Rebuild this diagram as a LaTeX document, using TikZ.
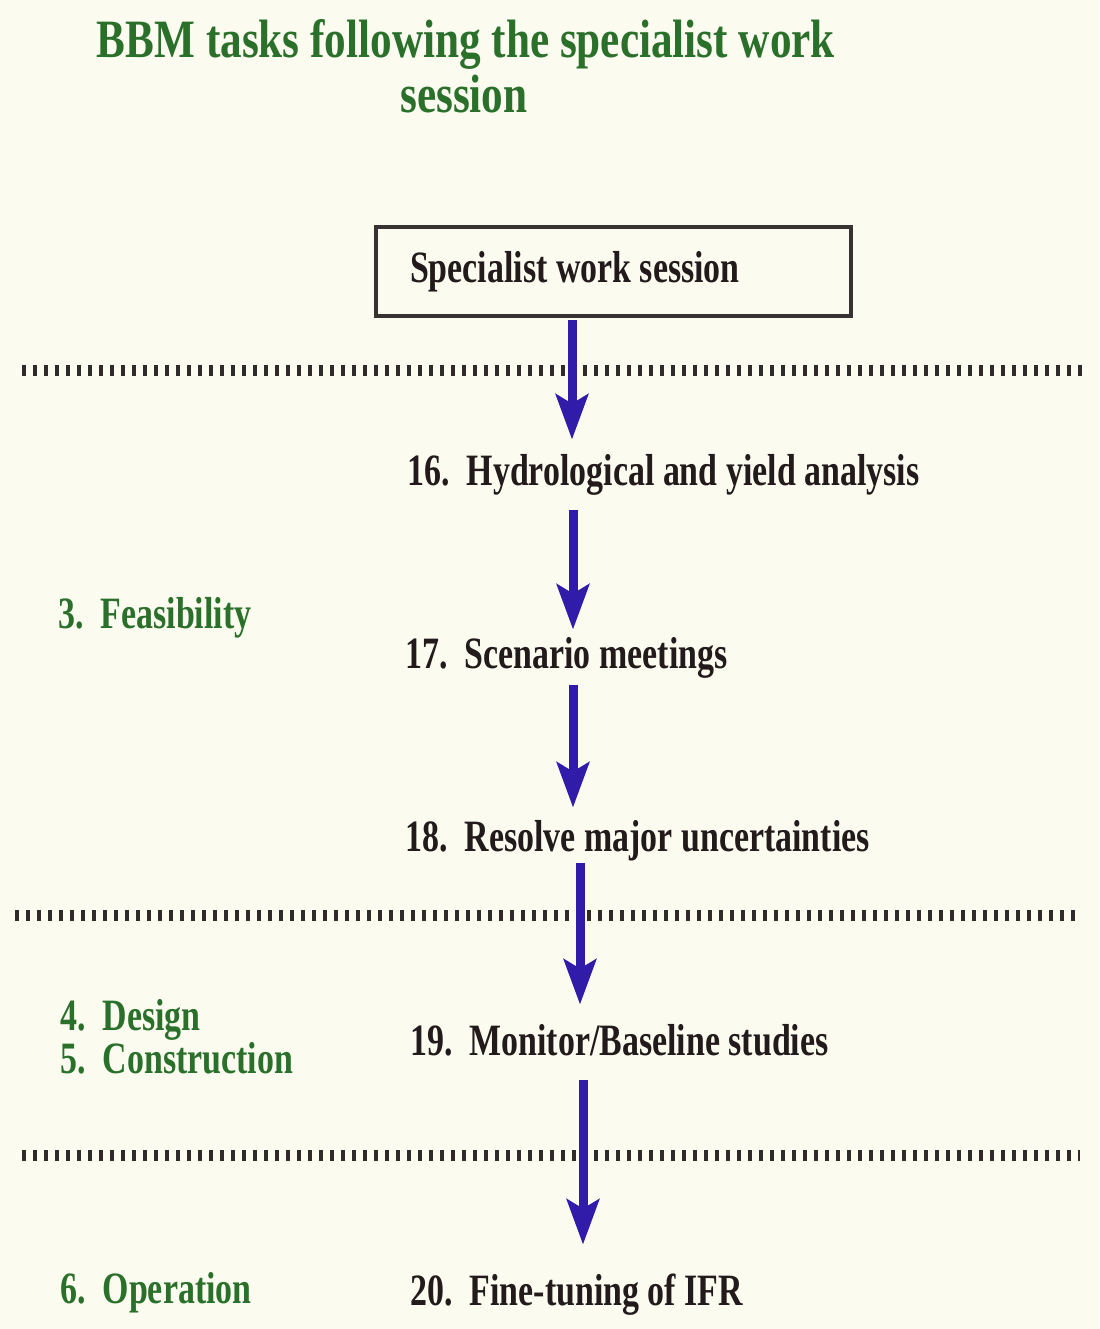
\documentclass[tikz,border=0pt]{standalone}
\usepackage{fontspec}
\setmainfont{Liberation Serif}[FakeStretch=0.757]
\newfontfamily\titlefont{Liberation Serif}[FakeStretch=0.8]
\usepackage{tikz}
\usetikzlibrary{arrows.meta, positioning}
\usepackage{xcolor}
\definecolor{paper}{RGB}{251,251,240}
\definecolor{leaf}{RGB}{42,112,42}
\definecolor{ink}{RGB}{35,27,27}
\definecolor{flowblue}{RGB}{48,28,168}
\definecolor{tick}{RGB}{48,42,42}

\begin{document}
\begin{tikzpicture}[x=0.5pt, y=-0.5pt,
    task/.style={anchor=base west, inner sep=0pt, text height=16pt, text depth=6pt,
      font=\fontsize{22.4pt}{26pt}\selectfont\bfseries, text=ink},
    phase/.style={anchor=base west, inner sep=0pt,
      font=\fontsize{22.4pt}{26pt}\selectfont\bfseries, text=leaf},
    sbox/.style={draw=ink!90, line width=2pt, minimum width=237.5pt, minimum height=44.5pt,
      text width=203.5pt, inner xsep=17pt, align=flush left,
      font=\fontsize{22.4pt}{26pt}\selectfont\bfseries, text=ink},
    divider/.style={draw=tick, line width=5.5pt, dash pattern=on 2pt off 3.5pt},
    flow/.style={draw=flowblue, line width=4.5pt,
      -{Stealth[length=22.5pt, width=16pt, inset=4.5pt]}}]
  % page
  \useasboundingbox (0,0) rectangle (1099,1329);
  \fill[paper] (0,0) rectangle (1099,1329);
  % title
  \node[anchor=base, inner sep=0pt, text=leaf, font=\titlefont\fontsize{27pt}{31pt}\selectfont\bfseries]
    (title1) at (466,57) {BBM tasks following the specialist work};
  \node[anchor=base, inner sep=0pt, text=leaf, font=\titlefont\fontsize{27pt}{31pt}\selectfont\bfseries]
    (title2) at (464,112) {session};
  % phase dividers
  \coordinate (d1w) at (22,370);   \coordinate (d1e) at (1083,370);
  \coordinate (d2w) at (15,915);   \coordinate (d2e) at (1075,915);
  \coordinate (d3w) at (22,1155);  \coordinate (d3e) at (1080,1155);
  \draw[divider] (d1w) -- (d1e);
  \draw[divider] (d2w) -- (d2e);
  \draw[divider] (d3w) -- (d3e);
  % tasks
  \node[sbox] (sws) at (613.5,271.5) {Specialist work session};
  \node[task] (t16) at (407,485) {16.\ \ Hydrological and yield analysis};
  \node[task] (t17) at (405,668) {17.\ \ Scenario meetings};
  \node[task] (t18) at (405,851) {18.\ \ Resolve major uncertainties};
  \node[task] (t19) at (410,1055) {19.\ \ Monitor/Baseline studies};
  \node[task] (t20) at (410,1305) {20.\ \ Fine-tuning of IFR};
  % phases
  \node[phase] (p3) at (58,628) {3.\ \ Feasibility};
  \node[phase] (p4) at (60,1030) {4.\ \ Design};
  \node[phase] (p5) at (60,1073) {5.\ \ Construction};
  \node[phase] (p6) at (60,1303) {6.\ \ Operation};
  % arrows
  \coordinate (a1) at (572,0); \coordinate (a2) at (573,0); \coordinate (a3) at (573,0);
  \coordinate (a4) at (580,0); \coordinate (a5) at (583,0);
  \draw[flow, shorten <=1pt, shorten >=6.5pt] (sws.south -| a1) -- (t16.north -| a1);
  \draw[flow, shorten <=6.5pt, shorten >=3pt] (t16.south -| a2) -- (t17.north -| a2);
  \draw[flow, shorten <=2.5pt, shorten >=5.5pt] (t17.south -| a3) -- (t18.north -| a3);
  \draw[flow, shorten <=0pt, shorten >=9pt] (t18.south -| a4) -- (t19.north -| a4);
  \draw[flow, shorten <=6.5pt, shorten >=14pt] (t19.south -| a5) -- (t20.north -| a5);
\end{tikzpicture}
\end{document}
